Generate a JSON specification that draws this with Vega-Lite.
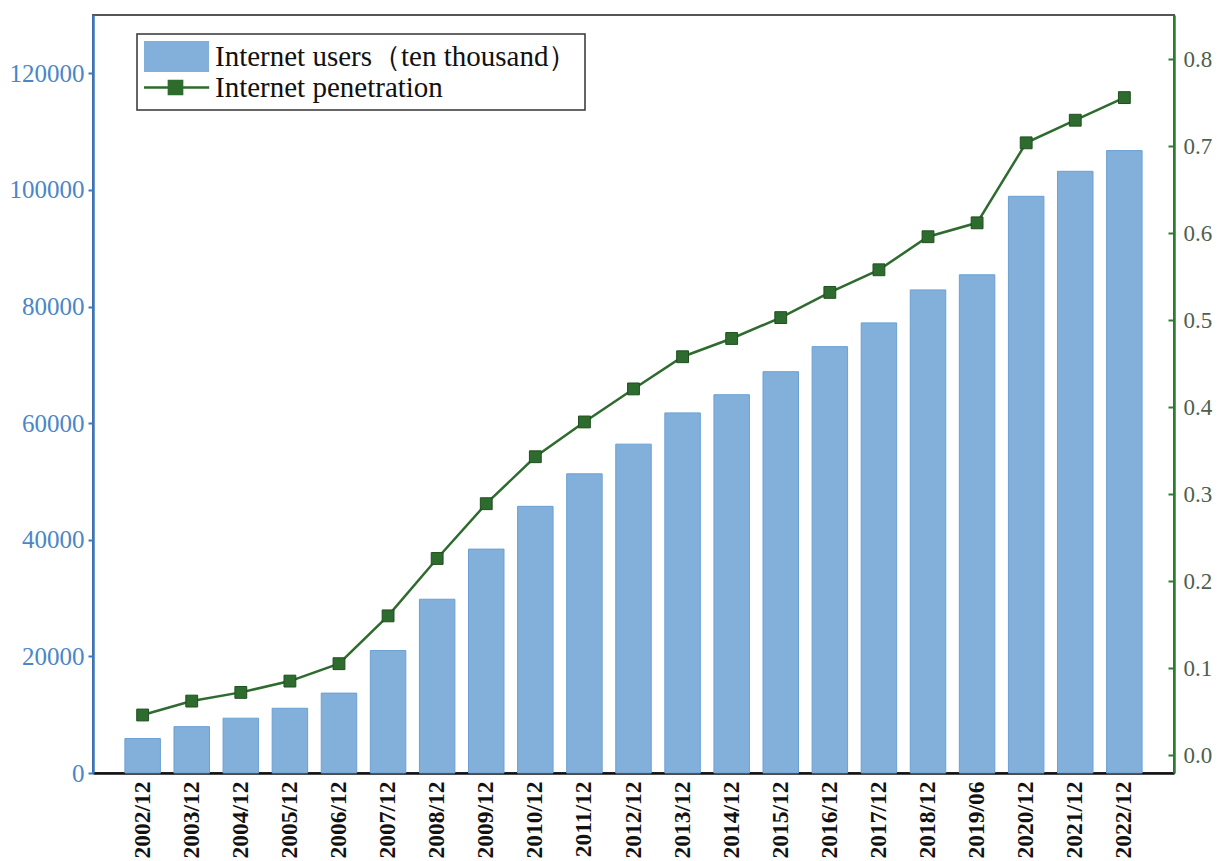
{
  "$schema": "https://vega.github.io/schema/vega-lite/v6.json",
  "width": 1081,
  "height": 758,
  "autosize": {"type": "none"},
  "padding": {"left": 93, "top": 15, "right": 43, "bottom": 88},
  "background": "white",
  "config": {
    "view": {"stroke": "#555555", "strokeWidth": 2},
    "font": "Liberation Serif"
  },
  "data": {
    "values": [
      {"period": "2002/12", "users": 5910, "penetration": 0.046},
      {"period": "2003/12", "users": 7950, "penetration": 0.062},
      {"period": "2004/12", "users": 9400, "penetration": 0.072},
      {"period": "2005/12", "users": 11100, "penetration": 0.085},
      {"period": "2006/12", "users": 13700, "penetration": 0.105},
      {"period": "2007/12", "users": 21000, "penetration": 0.160},
      {"period": "2008/12", "users": 29800, "penetration": 0.226},
      {"period": "2009/12", "users": 38400, "penetration": 0.289},
      {"period": "2010/12", "users": 45730, "penetration": 0.343},
      {"period": "2011/12", "users": 51310, "penetration": 0.383},
      {"period": "2012/12", "users": 56400, "penetration": 0.421},
      {"period": "2013/12", "users": 61758, "penetration": 0.458},
      {"period": "2014/12", "users": 64875, "penetration": 0.479},
      {"period": "2015/12", "users": 68826, "penetration": 0.503},
      {"period": "2016/12", "users": 73125, "penetration": 0.532},
      {"period": "2017/12", "users": 77198, "penetration": 0.558},
      {"period": "2018/12", "users": 82851, "penetration": 0.596},
      {"period": "2019/06", "users": 85449, "penetration": 0.612},
      {"period": "2020/12", "users": 98899, "penetration": 0.704},
      {"period": "2021/12", "users": 103195, "penetration": 0.730},
      {"period": "2022/12", "users": 106744, "penetration": 0.756}
    ]
  },
  "encoding": {
    "x": {
      "field": "period",
      "type": "nominal",
      "sort": null,
      "scale": {"paddingInner": 0.277, "paddingOuter": 0.65},
      "axis": {
        "title": null,
        "labelAngle": -90,
        "labelFont": "Liberation Serif",
        "labelFontSize": 23.5,
        "labelFontWeight": "bold",
        "labelColor": "#111111",
        "labelPadding": 8,
        "ticks": false,
        "domainColor": "#111111",
        "domainWidth": 2.5,
        "grid": false
      }
    }
  },
  "layer": [
    {
      "mark": {"type": "bar", "stroke": "#6aa0d4", "strokeWidth": 1},
      "encoding": {
        "y": {
          "field": "users",
          "type": "quantitative",
          "scale": {"domain": [0, 130000], "nice": false, "zero": true},
          "axis": {
            "orient": "left",
            "title": null,
            "grid": false,
            "values": [0, 20000, 40000, 60000, 80000, 100000, 120000],
            "format": "d",
            "labelFont": "Liberation Serif",
            "labelFontSize": 25,
            "labelColor": "#4a86c8",
            "labelPadding": 4,
            "domainColor": "#3a78c4",
            "domainWidth": 2.5,
            "tickColor": "#3a78c4",
            "tickWidth": 2,
            "tickSize": 5
          }
        },
        "color": {
          "datum": "Internet users（ten thousand）",
          "type": "nominal",
          "scale": {
            "domain": ["Internet users（ten thousand）", "Internet penetration"],
            "range": ["#82b0da", "#2e6b2e"]
          },
          "legend": {
            "title": null,
            "orient": "none",
            "legendX": 44,
            "legendY": 19,
            "fillColor": "white",
            "strokeColor": "#333333",
            "padding": 7,
            "labelFont": "Liberation Serif",
            "labelFontSize": 29,
            "labelColor": "#111111",
            "labelOffset": 5,
            "labelLimit": 0,
            "labelExpr": "datum.label + '   '",
            "clipHeight": 31,
            "rowPadding": 0,
            "symbolSize": 4356,
            "symbolOffset": -3,
            "encoding": {
              "legend": {
                "strokeWidth": {"value": 1.5}
              },
              "symbols": {
                "shape": {"value": {"expr": "datum.value == 'Internet penetration' ? 'M-1.02,0H1.02M-0.2,-0.2H0.2V0.2H-0.2Z' : 'M-0.98,-0.45H0.98V0.45H-0.98Z'"}},
                "fill": {"value": {"expr": "scale('color', datum.value)"}},
                "stroke": {"value": {"expr": "datum.value == 'Internet penetration' ? '#2e6b2e' : '#82b0da'"}},
                "strokeWidth": {"value": 2.5},
                "opacity": {"value": 1}
              }
            }
          }
        }
      }
    },
    {
      "encoding": {
        "y": {
          "field": "penetration",
          "type": "quantitative",
          "scale": {"domain": [-0.0207, 0.851], "nice": false, "zero": false},
          "axis": {
            "orient": "right",
            "title": null,
            "grid": false,
            "values": [0, 0.1, 0.2, 0.3, 0.4, 0.5, 0.6, 0.7, 0.8],
            "format": ".1f",
            "labelFont": "Liberation Serif",
            "labelFontSize": 23,
            "labelColor": "#4d5f4d",
            "labelPadding": 15,
            "domainColor": "#2e7d32",
            "domainWidth": 2.5,
            "tickColor": "#2e7d32",
            "tickWidth": 2,
            "tickSize": -6
          }
        },
        "color": {"datum": "Internet penetration", "type": "nominal"}
      },
      "layer": [
        {"mark": {"type": "line", "strokeWidth": 2.5}},
        {"mark": {"type": "point", "shape": "square", "filled": true, "size": 140, "stroke": "#1f4f1f", "strokeWidth": 1, "opacity": 1}}
      ]
    }
  ],
  "resolve": {"scale": {"y": "independent"}}
}
